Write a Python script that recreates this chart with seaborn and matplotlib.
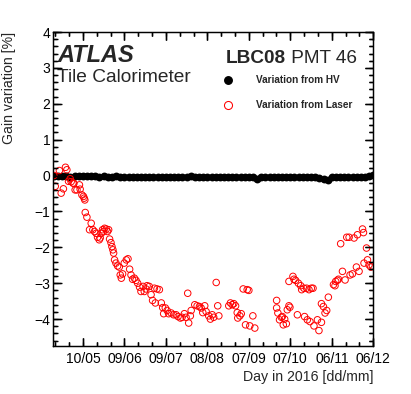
import numpy as np
import pandas as pd
import seaborn as sns
import matplotlib
matplotlib.use("Agg")
import matplotlib.pyplot as plt
from matplotlib.lines import Line2D

# ---------------- data (day of year 2016, gain variation in %) ----------------
hv_day = [110, 113, 116, 119, 122, 125, 128, 131, 134, 137, 140, 143, 146, 149, 152,
          155, 158, 161, 164, 167, 170, 173, 176, 179, 182, 185, 188, 191, 194, 197,
          200, 203, 206, 209, 212, 215, 218, 221, 224, 227, 230, 233, 236, 239, 242,
          245, 248, 251, 254, 257, 260, 263, 266, 269, 272, 275, 278, 281, 284, 287,
          290, 293, 296, 299, 302, 305, 308, 311, 314, 317, 320, 323, 326, 329, 332,
          335, 338, 341]
hv_val = [0.00, -0.02, -0.01, -0.02, -0.03, -0.02, -0.01, -0.02, -0.02, -0.01, -0.02,
          -0.03, -0.02, -0.03, -0.03, -0.02, -0.03, -0.03, -0.04, -0.03, -0.03, -0.04,
          -0.03, -0.03, -0.04, -0.03, -0.04, -0.03, -0.03, -0.04, -0.03, -0.03, -0.03,
          -0.02, -0.03, -0.03, -0.04, -0.03, -0.03, -0.03, -0.04, -0.04, -0.03, -0.04,
          -0.03, -0.05, -0.04, -0.05, -0.05, -0.10, -0.05, -0.04, -0.04, -0.05, -0.04,
          -0.04, -0.05, -0.04, -0.05, -0.04, -0.05, -0.05, -0.04, -0.05, -0.06, -0.11,
          -0.12, -0.05, -0.04, -0.05, -0.04, -0.04, -0.05, -0.04, -0.04, -0.03, -0.02,
          0.02]

laser_day = [110, 111, 114, 115.3, 116.9, 118.4, 119.4, 120.6, 121.8, 122.5, 123.8, 124.5,
             125.4, 126.7, 128.5, 129, 130.3, 131.4, 131.9, 132.4, 132.7, 133.9, 135.8, 137,
             138.2, 139.4, 140.6, 141.6, 142.8, 143.5, 144.3, 145.2, 145.9, 146.7, 147.9,
             148.8, 149.6, 150.3, 151.3, 152, 152.7, 153.2, 153.9, 154.9, 156.1, 157.3, 158,
             158.8, 159.7, 160.9, 162.4, 163.6, 164.8, 165.8, 166.9, 168.2, 169.4, 170.6,
             172, 173, 174.5, 175.4, 176.6, 177.4, 179, 180.3, 181.4, 182.7, 183.4, 184.6,
             186.3, 187.7, 188.7, 189.4, 190.6, 191.9, 193, 194.8, 196.6, 198.4, 199.8,
             201.5, 202.7, 204.4, 205.6, 206.8, 207.5, 208.7, 209.3, 211.9, 213.6, 215.3,
             216.5, 217.7, 219.1, 220.1, 222, 223.2, 224.5, 225.6, 227.4, 228.5, 229.3,
             236.5, 237.7, 239, 240.1, 241.4, 242.6, 243, 244.5, 245.5, 246.9, 248.6, 249.8,
             251, 251.7, 253.9, 255.3, 271.1, 271.1, 272, 273.2, 274.5, 275.2, 275.9, 276.9,
             278.1, 278.8, 280, 280.7, 280, 282.9, 283.6, 284.8, 286.1, 286.8, 288.5, 289.2,
             290.8, 291.3, 292.8, 293.3, 294.5, 295.2, 296.2, 297.4, 298.1, 300.6, 301.7,
             303.5, 303.5, 304.9, 306.1, 307.3, 308.5, 312.2, 313.3, 313.8, 315, 315.8,
             317.4, 318.7, 320.6, 321.8, 323.5, 324.2, 325.9, 327.1, 328.8, 329.5, 330.7,
             333.2, 333.9, 334.3, 336.1, 336.8, 337.9, 339.2, 340.4]
laser_val = [0.00, -0.30, 0.14, -0.49, -0.37, 0.23, 0.16, -0.16, -0.09, -0.17, -0.21, -0.22,
             -0.40, -0.40, -0.26, -0.38, -0.54, -0.58, -0.63, -0.68, -1.03, -1.16, -1.51, -1.33,
             -1.51, -1.56, -1.61, -1.72, -1.79, -1.74, -1.61, -1.51, -1.56, -1.47, -1.49,
             -1.56, -1.51, -1.77, -1.87, -1.98, -2.07, -2.16, -2.35, -2.44, -2.52, -2.55, -2.77,
             -2.86, -2.74, -2.44, -2.35, -2.32, -2.61, -2.77, -2.89, -2.86, -2.92, -3.00,
             -3.11, -3.23, -3.09, -3.23, -3.16, -3.07, -3.09, -3.32, -3.48, -3.14, -3.55, -3.16,
             -3.18, -3.55, -3.68, -3.85, -3.69, -3.76, -3.85, -3.83, -3.88, -3.88, -3.93,
             -3.97, -3.95, -3.85, -3.95, -3.28, -4.11, -3.91, -3.76, -3.60, -3.63, -3.65,
             -3.69, -3.82, -3.63, -3.79, -3.91, -4.00, -3.88, -3.95, -2.98, -3.63, -3.91,
             -3.63, -3.55, -3.60, -3.57, -3.63, -3.82, -3.97, -3.91, -3.85, -3.16, -4.16, -3.18,
             -3.20, -4.19, -3.91, -4.25, -3.48, -3.69, -3.83, -4.02, -3.95, -3.93, -4.16, -4.00,
             -4.13, -3.74, -3.63, -3.67, -2.95, -2.81, -2.89, -2.92, -3.88, -3.00, -3.07, -3.18,
             -3.14, -3.93, -3.14, -4.02, -3.18, -4.07, -3.14, -3.14, -4.19, -4.02, -4.32,
             -4.09, -3.57, -3.65, -3.83, -3.76, -3.39, -3.04, -3.07, -2.95, -2.92, -2.89,
             -1.90, -2.67, -2.91, -1.72, -1.72, -2.77, -2.74, -1.74, -2.55, -1.65, -2.67,
             -1.49, -1.59, -2.44, -2.02, -2.35, -2.49, -2.55, -2.52]

tick_days = [131, 161, 191, 221, 251, 281, 311, 341]
tick_labels = ["10/05", "09/06", "09/07", "08/08", "07/09", "07/10", "06/11", "06/12"]
y_ticks = [-4, -3, -2, -1, 0, 1, 2, 3, 4]

hv_label = "Variation from HV"
laser_label = "Variation from Laser"

# ---------------- styling ----------------
sns.set_style("ticks")
plt.rcParams.update({
    "font.family": ["Liberation Sans", "DejaVu Sans"],
    "axes.unicode_minus": True,
    "axes.axisbelow": False,
    "xtick.direction": "in", "ytick.direction": "in",
    "xtick.top": True, "xtick.bottom": True,
    "ytick.left": True, "ytick.right": True,
    "xtick.major.size": 6, "ytick.major.size": 6,
    "xtick.minor.size": 3, "ytick.minor.size": 3,
    "xtick.major.width": 0.9, "ytick.major.width": 0.9,
    "xtick.minor.width": 0.9, "ytick.minor.width": 0.9,
    "xtick.color": "black", "ytick.color": "black",
    "axes.edgecolor": "black",
})

fig = plt.figure(figsize=(4.11, 3.94), dpi=100)
W, H = 411.0, 394.0
rect = [53.3 / W, 1 - 346 / H, (373.3 - 53.3) / W, (346 - 32) / H]
ax = fig.add_axes(rect)

hv_df = pd.DataFrame({"day": hv_day, "val": hv_val})
laser_df = pd.DataFrame({"day": laser_day, "val": laser_val})

sns.scatterplot(data=hv_df, x="day", y="val", ax=ax, color="black", s=32,
                linewidth=0, marker="o", legend=False, zorder=2)
sns.scatterplot(data=laser_df, x="day", y="val", ax=ax, marker="o", s=22,
                facecolor="none", edgecolor="#ff0000", linewidth=0.7,
                legend=False, zorder=3)

x_minor = np.arange(111, 342, 10)
y_minor = np.arange(-4.6, 4.01, 0.2)


def setup_axis(a):
    a.set_xlim(109.6, 341)
    a.set_ylim(-4.75, 4)
    a.set_xticks(tick_days)
    a.set_xticks(x_minor, minor=True)
    a.set_yticks(y_ticks)
    a.set_yticks(y_minor, minor=True)
    for sp in a.spines.values():
        sp.set_edgecolor("black")
        sp.set_linewidth(0.9)


setup_axis(ax)
ax.set_xticklabels(tick_labels)
ax.set_yticklabels([str(v).replace("-", "\u2212") for v in y_ticks])
ax.tick_params(which="both", top=True, right=True, bottom=True, left=True, labelsize=10)
ax.tick_params(axis="x", which="major", pad=4)
ax.tick_params(axis="y", which="major", pad=2)

ax.set_xlabel("Day in 2016 [dd/mm]", fontsize=10.2, loc="right")
ax.xaxis.set_label_coords(1.0, -0.077)
ax.set_ylabel("Gain variation [%]", fontsize=10.2, loc="top")
ax.yaxis.set_label_coords(-0.118, 1.0)

# transparent overlay axes on top carrying the inward ROOT-style tick marks
ov = fig.add_axes(rect, zorder=10)
ov.patch.set_visible(False)
ov.set_facecolor("none")
setup_axis(ov)
ov.tick_params(which="both", direction="in", top=True, right=True, bottom=True,
               left=True, labelbottom=False, labelleft=False, labeltop=False,
               labelright=False, color="black")
ov.tick_params(which="major", length=6, width=0.9)
ov.tick_params(which="minor", length=3, width=0.9)
xt = ov.get_xaxis_transform()
yt = ov.get_yaxis_transform()
kw = dict(colors="black", linewidth=0.9, clip_on=False, zorder=6)
Lx_maj, Lx_min = 8.3 / 314, 4.2 / 314
Ly_maj, Ly_min = 8.3 / 320, 4.2 / 320
ov.vlines(tick_days, 0, Lx_maj, transform=xt, **kw)
ov.vlines(tick_days, 1 - Lx_maj, 1, transform=xt, **kw)
ov.vlines(x_minor, 0, Lx_min, transform=xt, **kw)
ov.vlines(x_minor, 1 - Lx_min, 1, transform=xt, **kw)
ov.hlines(y_ticks, 0, Ly_maj, transform=yt, **kw)
ov.hlines(y_ticks, 1 - Ly_maj, 1, transform=yt, **kw)
ov.hlines(y_minor, 0, Ly_min, transform=yt, **kw)
ov.hlines(y_minor, 1 - Ly_min, 1, transform=yt, **kw)
ov.set_xlim(109.6, 341)
ov.set_ylim(-4.75, 4)

# ATLAS labels
fig.text(57 / W, 1 - 62.5 / H, "ATLAS", fontsize=17, fontweight="bold",
         fontstyle="italic", ha="left", va="baseline")
fig.text(57 / W, 1 - 82.3 / H, "Tile Calorimeter", fontsize=13.8,
         ha="left", va="baseline")
t1 = fig.text(226 / W, 1 - 62.7 / H, "LBC08", fontsize=13.7, fontweight="bold",
              ha="left", va="baseline")
renderer = fig.canvas.get_renderer()
t1_right = t1.get_window_extent(renderer).x1
fig.text(t1_right / W, 1 - 62.7 / H, " PMT 46", fontsize=13.7,
         ha="left", va="baseline")

handles = [
    Line2D([], [], linestyle="none", marker="o", markersize=5.4,
           markerfacecolor="black", markeredgecolor="black"),
    Line2D([], [], linestyle="none", marker="o", markersize=5.8,
           markerfacecolor="none", markeredgecolor="#ff0000", markeredgewidth=0.75),
]
leg = ax.legend(handles, [hv_label, laser_label], loc="upper left",
                bbox_to_anchor=(222 / W, 1 - 75 / H), bbox_transform=fig.transFigure,
                frameon=False, prop={"size": 7.2, "weight": "bold"},
                handlelength=1.2, handletextpad=2.2, labelspacing=1.5,
                borderpad=0, borderaxespad=0)

fig.savefig("out.png", dpi=100)
